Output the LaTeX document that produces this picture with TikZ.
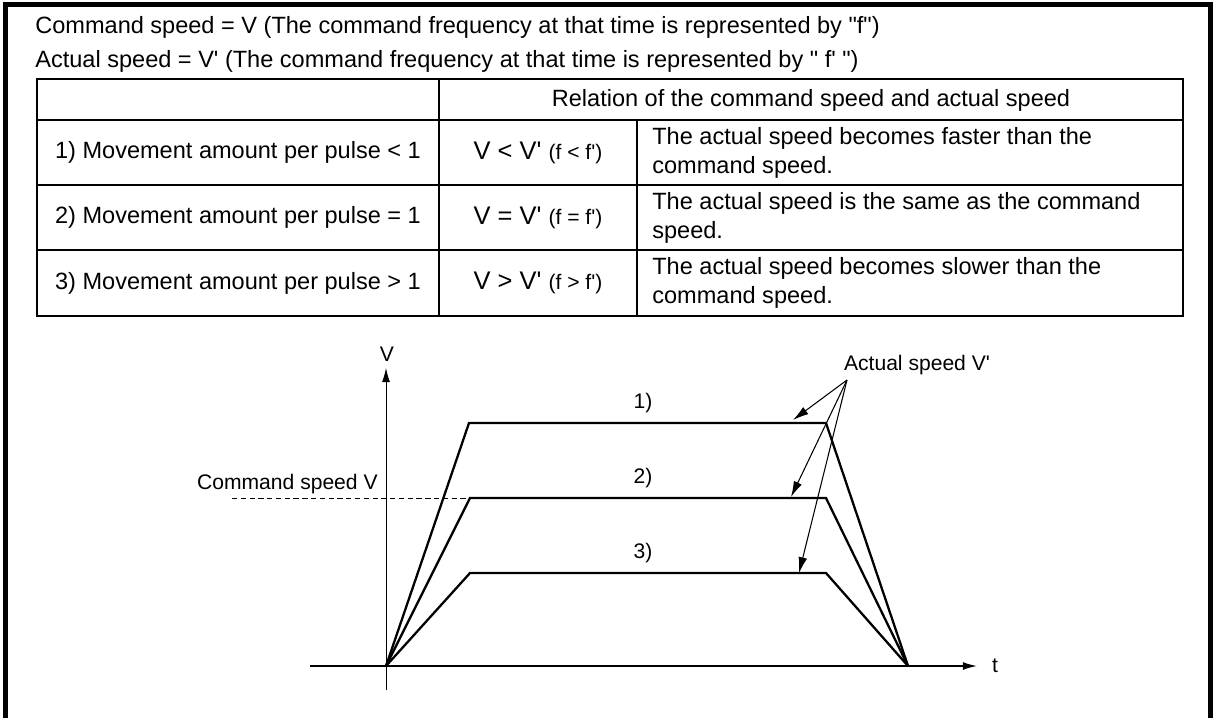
\documentclass[tikz,border=0pt]{standalone}
\usepackage{fontspec}
\setmainfont{Liberation Sans}[Ligatures=TeXOff]
\usetikzlibrary{arrows.meta}

\tikzset{
  cell/.style={font=\fontsize{13.4}{16.5}\selectfont, inner sep=0pt},
  desc/.style={cell, align=left, anchor=west},
  relcell/.style={font=\fontsize{14.5}{17}\selectfont, inner sep=0pt},
  lbl/.style={font=\fontsize{12}{14}\selectfont, inner sep=0pt},
  rule/.style={line width=1.1pt},
  profile/.style={line width=1.3pt, line join=miter},
  pointer/.style={-{Latex[length=9pt,width=5pt]}, line width=0.6pt},
}
\newcommand{\freq}[1]{{\fontsize{12}{14}\selectfont #1}}

\begin{document}
\begin{tikzpicture}[x=0.02cm, y=-0.02cm]
        \useasboundingbox (0,0) rectangle (1215,718);
        % outer frame, open at the bottom
        \draw[line width=2.8pt] (5.5,718) -- (5.5,4.5) -- (1210.5,4.5) -- (1210.5,718);

        \node[cell, anchor=west] (cmdline) at (35,27) {Command speed = V (The command frequency at that time is represented by "f")};
        \node[cell, anchor=west] (actline) at (35,61) {Actual speed = V' (The command frequency at that time is represented by " f' ")};

        % table
        \draw[rule] (37,79) rectangle (1183,316);
        \draw[rule] (37,120) -- (1183,120);
        \draw[rule] (37,185) -- (1183,185);
        \draw[rule] (37,250) -- (1183,250);
        \draw[rule] (439,79) -- (439,316);
        \draw[rule] (637,120) -- (637,316);

        \node[cell] (head) at (811,100) {Relation of the command speed and actual speed};

        \node[cell] (case1) at (238,152.5) {1) Movement amount per pulse < 1};
        \node[cell] (case2) at (238,217.5) {2) Movement amount per pulse = 1};
        \node[cell] (case3) at (238,283) {3) Movement amount per pulse > 1};

        \node[relcell] (rel1) at (538,152.5) {V < V' \freq{(f < f')}};
        \node[relcell] (rel2) at (538,217.5) {V = V' \freq{(f = f')}};
        \node[relcell] (rel3) at (538,283) {V > V' \freq{(f > f')}};

        \node[desc] (note1) at (652,152.5) {The actual speed becomes faster than the\\command speed.};
        \node[desc] (note2) at (652,217.5) {The actual speed is the same as the command\\speed.};
        \node[desc] (note3) at (652,283) {The actual speed becomes slower than the\\command speed.};

        % speed graph
        \coordinate (O) at (386,666);
        \coordinate (E) at (908,666);
        \coordinate (ybot) at (386,690);
        \coordinate (ytop) at (386,368);
        \coordinate (xl) at (310,666);
        \coordinate (xr) at (977,666);
        \draw[line width=0.5pt, -{Latex[length=8pt,width=4.5pt]}] (ybot) -- (ytop);
        \draw[line width=0.8pt, -{Latex[length=8pt,width=4.5pt]}] (xl) -- (xr);
        \node[lbl] (vlab) at (387,354) {V};
        \node[lbl] (tlab) at (995,666) {t};

        \coordinate (p1a) at (469,423);
        \coordinate (p1b) at (826,423);
        \coordinate (p2a) at (470,498);
        \coordinate (p2b) at (826,498);
        \coordinate (p3a) at (470,573);
        \coordinate (p3b) at (826,573);
        \draw[profile] (O) -- (p1a) -- (p1b) -- (E);
        \draw[profile] (O) -- (p2a) -- (p2b) -- (E);
        \draw[profile] (O) -- (p3a) -- (p3b) -- (E);

        \node[lbl] (n1) at (643,403) {1)};
        \node[lbl] (n2) at (643,478) {2)};
        \node[lbl] (n3) at (643,553) {3)};

        \node[lbl, anchor=east] (cmdv) at (378,484) {Command speed V};
        \coordinate (dl) at (232,498);
        \draw[line width=0.5pt, dash pattern=on 3pt off 2pt] (dl) -- (p2a);

        \node[lbl] (actv) at (917,365) {Actual speed V'};
        \coordinate (src) at (847,380);
        \coordinate (t1) at (793,420);
        \coordinate (t2) at (791,497);
        \coordinate (t3) at (799,573);
        \draw[pointer] (src) -- (t1);
        \draw[pointer] (src) -- (t2);
        \draw[pointer] (src) -- (t3);
      \end{tikzpicture}
\end{document}
